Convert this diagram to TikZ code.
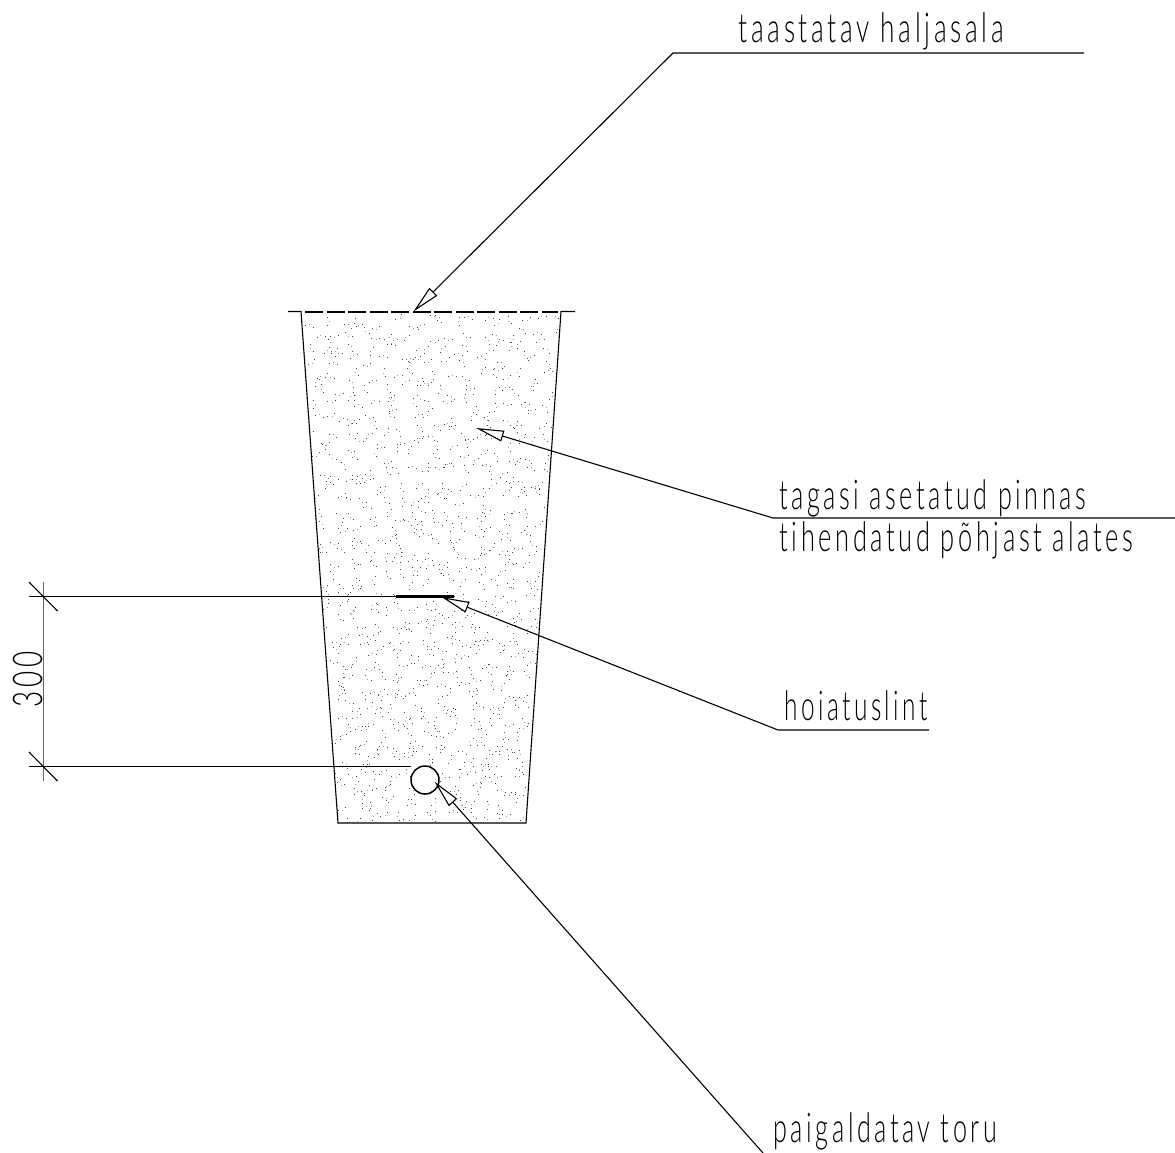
\documentclass[tikz,border=0pt]{standalone}
\usepackage{fontspec}
\usepackage{graphicx}
\usetikzlibrary{arrows.meta}
\setmainfont{Lato Light}[FakeStretch=0.64,LetterSpace=9,Ligatures={NoCommon,NoRare,NoContextual}]
\begin{document}
\begin{tikzpicture}[x=1pt,y=-1pt,
  line width=1.1pt,
  label/.style={inner sep=0pt,anchor=base west,font=\fontsize{41}{41}\selectfont},
  leader/.style={-{Triangle[open,fill=white,length=28pt,width=11pt]}},
  dimline/.style={line width=1.1pt},
]
\useasboundingbox (0,0) rectangle (1175,1153);
\clip (0,0) rectangle (1175,1153);
\fill[white] (0,0) rectangle (1175,1153);
% stipple: jittered grid of short dot strings
\pgfmathsetseed{4711}
\foreach \r in {0,...,36}{
  \foreach \c in {0,...,17}{
    \pgfmathsetmacro\yy{314+(\r+rnd)*13.7}
    \pgfmathsetmacro\tt{(\yy-311)/512}
    \pgfmathsetmacro\xl{301+37*\tt+2}
    \pgfmathsetmacro\xr{561-35*\tt-2}
    \pgfmathsetmacro\xx{\xl+(\c+rnd)*(\xr-\xl)/18}
    \pgfmathsetmacro\ang{rnd*360}
    \fill[black!75] (\xx,\yy) rectangle +(1,1);
    \fill[black!40] (\xx,\yy) ++(\ang:4) rectangle +(1,1);
    \fill[black!70] (\xx,\yy) ++(\ang+25:8) rectangle +(1,1);
  }
}
% mask stipple outside the trench
\fill[white] (280,290) rectangle (580,311);
\fill[white] (280,311) -- (301,311) -- (338,823) -- (338,840) -- (280,840) -- cycle;
\fill[white] (580,311) -- (561,311) -- (526,823) -- (526,840) -- (580,840) -- cycle;
\fill[white] (280,823) rectangle (580,840);
% trench
\draw (288,311.5) -- (301,311.5) -- (338,823) -- (526,823) -- (561,311.5) -- (575,311.5);
\draw[line width=1.8pt,dash pattern=on 18pt off 3.5pt] (305,311.7) -- (558,311.7);
% warning tape and pipe
\draw[line width=3pt] (396,596) -- (454,596);
\node[circle,draw,line width=1.5pt,fill=white,minimum size=28pt,inner sep=0pt] (pipe) at (425,780) {};
% anchors
\coordinate (t1) at (413.5,311.5);
\coordinate (k1) at (673,53);
\coordinate (e1) at (1084,53);
\coordinate (t2) at (476,428);
\coordinate (k2) at (773,518);
\coordinate (e2) at (1175,518);
\coordinate (t3) at (441.5,597);
\coordinate (k3) at (778,730);
\coordinate (e3) at (929,730);
\coordinate (t4) at (434.5,781.5);
\coordinate (e4) at (763,1153);
% leaders
\draw[leader] (e1) -- (k1) -- (t1);
\draw[leader] (e2) -- (k2) -- (t2);
\draw[leader] (e3) -- (k3) -- (t3);
\draw[leader] (e4) -- (t4);
% dimension
\coordinate (d1) at (29,596.5);
\coordinate (d1e) at (396,596.5);
\coordinate (d2) at (29,766.5);
\coordinate (d2e) at (411,766.5);
\draw[dimline] (d1) -- (d1e);
\draw[dimline] (d2) -- (d2e);
\draw[dimline,black!60] (43.5,582) -- (43.5,781);
\draw[dimline] (29,582) -- (57.5,611);
\draw[dimline] (29,752) -- (57.5,781);
% labels
\node[label] (l1) at (738,43) {\scalebox{1.0}[1]{taastatav haljasala}};
\node[label] (l2) at (779,509) {\scalebox{.96}[1]{tagasi asetatud pinnas}};
\node[label] (l3) at (779,551) {\scalebox{.97}[1]{tihendatud põhjast alates}};
\node[label] (l4) at (784,720) {\scalebox{.93}[1]{hoiatuslint}};
\node[label] (l5) at (773,1142) {\scalebox{.96}[1]{paigaldatav toru}};
\node[label,rotate=90] (l6) at (42,708) {\scalebox{1.06}[1]{300}};
\end{tikzpicture}
\end{document}
